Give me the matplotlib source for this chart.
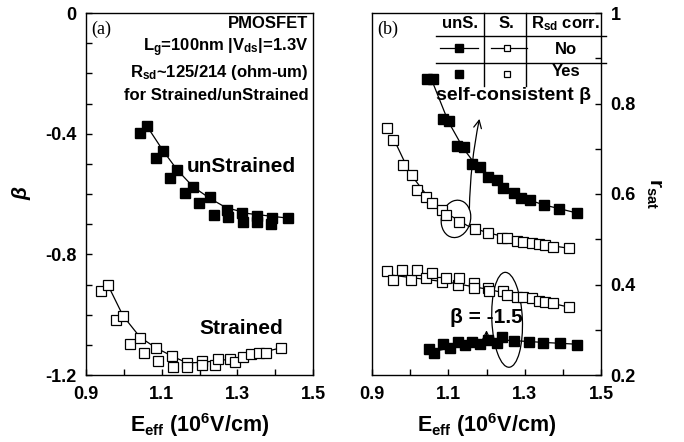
import matplotlib
matplotlib.use("Agg")
import matplotlib.pyplot as plt
from matplotlib.patches import Ellipse
from matplotlib.ticker import MultipleLocator

SANS = "Liberation Sans"
SERIF = "Liberation Serif"
plt.rcParams["font.family"] = [SANS, "DejaVu Sans"]
plt.rcParams["mathtext.fontset"] = "custom"
plt.rcParams["mathtext.rm"] = SANS + ":bold"
plt.rcParams["mathtext.it"] = SANS + ":bold:italic"
plt.rcParams["mathtext.bf"] = SANS + ":bold"

# ---------------- Panel (a): beta vs Eeff ----------------
a_unstr_E = [1.043, 1.061, 1.104, 1.085, 1.141, 1.122, 1.183, 1.162, 1.228, 1.199,
             1.238, 1.273, 1.275, 1.312, 1.315, 1.352, 1.352, 1.392, 1.389, 1.434]
a_unstr_b = [-0.398, -0.375, -0.457, -0.481, -0.520, -0.547, -0.577, -0.597, -0.610, -0.630,
             -0.670, -0.653, -0.676, -0.663, -0.693, -0.673, -0.693, -0.680, -0.699, -0.680]
a_unstr_fitE = [1.061, 1.104, 1.141, 1.183, 1.228, 1.27, 1.33, 1.434]
a_unstr_fitb = [-0.375, -0.457, -0.520, -0.576, -0.615, -0.645, -0.665, -0.680]

a_str_E = [0.940, 0.958, 0.979, 0.998, 1.016, 1.043, 1.053, 1.085, 1.090, 1.127, 1.130,
           1.167, 1.167, 1.207, 1.207, 1.241, 1.249, 1.281, 1.294, 1.315, 1.336, 1.357,
           1.376, 1.415]
a_str_b = [-0.921, -0.902, -1.018, -1.004, -1.097, -1.077, -1.127, -1.110, -1.153, -1.137,
           -1.173, -1.160, -1.173, -1.153, -1.167, -1.167, -1.147, -1.147, -1.157, -1.140,
           -1.130, -1.127, -1.127, -1.110]
a_str_fitE = [0.958, 0.998, 1.043, 1.085, 1.127, 1.167, 1.207, 1.25, 1.28, 1.31, 1.36, 1.415]
a_str_fitb = [-0.902, -1.004, -1.075, -1.110, -1.137, -1.160, -1.158, -1.152, -1.148,
              -1.140, -1.127, -1.110]

# ---------------- Panel (b): r_sat vs Eeff ----------------
b_unS_no_E = [1.044, 1.060, 1.086, 1.102, 1.123, 1.141, 1.162, 1.183, 1.204, 1.227,
              1.243, 1.272, 1.290, 1.314, 1.351, 1.390, 1.437]
b_unS_no_r = [0.854, 0.854, 0.766, 0.761, 0.706, 0.704, 0.666, 0.660, 0.638, 0.631,
              0.613, 0.602, 0.591, 0.587, 0.576, 0.567, 0.558]
b_unS_no_fitE = [1.055, 1.10, 1.14, 1.18, 1.22, 1.26, 1.30, 1.35, 1.437]
b_unS_no_fitr = [0.855, 0.760, 0.700, 0.655, 0.630, 0.607, 0.590, 0.576, 0.558]

b_S_no_E = [0.939, 0.955, 0.981, 1.005, 1.018, 1.041, 1.057, 1.083, 1.094, 1.128,
            1.170, 1.204, 1.241, 1.254, 1.280, 1.296, 1.319, 1.338, 1.353, 1.374, 1.416]
b_S_no_r = [0.746, 0.719, 0.664, 0.642, 0.609, 0.593, 0.580, 0.565, 0.554, 0.538,
            0.523, 0.514, 0.503, 0.503, 0.496, 0.494, 0.492, 0.490, 0.487, 0.483, 0.481]
b_S_no_fitE = [0.955, 1.0, 1.05, 1.10, 1.15, 1.20, 1.30, 1.416]
b_S_no_fitr = [0.725, 0.645, 0.590, 0.555, 0.530, 0.515, 0.495, 0.480]

b_S_yes_E = [0.939, 0.955, 0.979, 1.002, 1.018, 1.041, 1.057, 1.083, 1.094, 1.125, 1.128,
             1.168, 1.168, 1.204, 1.207, 1.243, 1.254, 1.280, 1.296, 1.319, 1.338, 1.353,
             1.374, 1.416]
b_S_yes_r = [0.430, 0.410, 0.432, 0.410, 0.432, 0.414, 0.425, 0.405, 0.414, 0.399, 0.414,
             0.403, 0.392, 0.392, 0.386, 0.386, 0.377, 0.372, 0.372, 0.370, 0.364, 0.361,
             0.359, 0.350]
b_S_yes_fitE = [0.939, 1.10, 1.20, 1.30, 1.416]
b_S_yes_fitr = [0.422, 0.405, 0.390, 0.372, 0.350]

b_unS_yes_E = [1.049, 1.062, 1.086, 1.104, 1.125, 1.144, 1.162, 1.183, 1.204, 1.227,
               1.241, 1.272, 1.312, 1.349, 1.392, 1.437]
b_unS_yes_r = [0.257, 0.249, 0.268, 0.260, 0.272, 0.266, 0.273, 0.268, 0.277, 0.270,
               0.284, 0.275, 0.273, 0.271, 0.271, 0.266]
b_unS_yes_fitE = [1.05, 1.15, 1.25, 1.35, 1.437]
b_unS_yes_fitr = [0.250, 0.268, 0.277, 0.272, 0.268]

a_yticks = [0, -0.4, -0.8, -1.2]
a_yticklabels = ["0", "-0.4", "-0.8", "-1.2"]
b_yticks = [0.2, 0.4, 0.6, 0.8, 1.0]
b_yticklabels = ["0.2", "0.4", "0.6", "0.8", "1"]
xticks = [0.9, 1.1, 1.3, 1.5]
xticklabels = ["0.9", "1.1", "1.3", "1.5"]

fig = plt.figure(figsize=(6.84, 4.42), dpi=100)
axa = fig.add_axes([86 / 684, 1 - 375 / 442, 227 / 684, 362 / 442])
axb = fig.add_axes([372 / 684, 1 - 375 / 442, 229 / 684, 362 / 442])

tickfont = dict(family=SANS, weight="bold", size=13)
lw = 0.9
msF = 7
msO = 6.5

for ax in (axa, axb):
    for s in ax.spines.values():
        s.set_linewidth(1.0)
    ax.set_xlim(0.9, 1.5)
    ax.xaxis.set_minor_locator(MultipleLocator(0.1))
    ax.set_xticks(xticks)
    ax.set_xticklabels(xticklabels, fontdict=tickfont)
    ax.tick_params(axis="both", which="both", direction="in", length=4, width=1.0, pad=5)
    ax.tick_params(axis="x", which="both", pad=8)
    ax.set_xlabel(r"E$_{\mathregular{eff}}$ (10$^{\mathregular{6}}$V/cm)", fontsize=15.5,
                  fontweight="bold", labelpad=6)

# ---- panel a
axa.set_ylim(-1.2, 0)
axa.set_yticks(a_yticks)
axa.set_yticklabels(a_yticklabels, fontdict=tickfont)
axa.yaxis.set_minor_locator(MultipleLocator(0.1))
axa.tick_params(axis="y", which="both", pad=7)
axa.set_ylabel("β", fontsize=15, fontweight="bold", style="italic", labelpad=10)

axa.plot(a_unstr_fitE, a_unstr_fitb, color="black", lw=lw)
axa.plot(a_unstr_E, a_unstr_b, ls="none", marker="s", ms=msF, mfc="black", mec="black")
axa.plot(a_str_fitE, a_str_fitb, color="black", lw=lw)
axa.plot(a_str_E, a_str_b, ls="none", marker="s", ms=msO, mfc="white", mec="black", mew=0.9)

axa.text(0.025, 0.955, "(a)", transform=axa.transAxes, family=SERIF, fontsize=13, va="center")
hdr = [("PMOSFET", 0.970),
       (r"L$_{\mathregular{g}}$=100nm |V$_{\mathregular{ds}}$|=1.3V", 0.903),
       (r"R$_{\mathregular{sd}}$~125/214 (ohm-um)", 0.837),
       ("for Strained/unStrained", 0.773)]
for t, yy in hdr:
    axa.text(0.98, yy, t, transform=axa.transAxes, ha="right", va="center",
             fontsize=12, fontweight="bold")
axa.text(1.31, -0.51, "unStrained", fontsize=15, fontweight="bold", ha="center", va="center")
axa.text(1.31, -1.045, "Strained", fontsize=15, fontweight="bold", ha="center", va="center")

# ---- panel b
axb.set_ylim(0.2, 1.0)
axb.yaxis.tick_right()
axb.yaxis.set_label_position("right")
axb.set_yticks(b_yticks)
axb.set_yticklabels(b_yticklabels, fontdict=tickfont)
axb.yaxis.set_minor_locator(MultipleLocator(0.1))
axb.tick_params(axis="y", which="both", pad=7)
axb.set_ylabel(r"r$_{\mathregular{sat}}$", fontsize=15, fontweight="bold", rotation=270,
               labelpad=20)

axb.plot(b_unS_no_fitE, b_unS_no_fitr, color="black", lw=lw)
axb.plot(b_unS_no_E, b_unS_no_r, ls="none", marker="s", ms=msF, mfc="black", mec="black")
axb.plot(b_S_no_fitE, b_S_no_fitr, color="black", lw=lw)
axb.plot(b_S_no_E, b_S_no_r, ls="none", marker="s", ms=msO, mfc="white", mec="black", mew=0.9)
axb.plot(b_S_yes_fitE, b_S_yes_fitr, color="black", lw=lw)
axb.plot(b_S_yes_E, b_S_yes_r, ls="none", marker="s", ms=msO, mfc="white", mec="black", mew=0.9)
axb.plot(b_unS_yes_fitE, b_unS_yes_fitr, color="black", lw=lw)
axb.plot(b_unS_yes_E, b_unS_yes_r, ls="none", marker="s", ms=msF, mfc="black", mec="black")

axb.text(0.025, 0.955, "(b)", transform=axb.transAxes, family=SERIF, fontsize=13, va="center")

# legend table (axes fraction coords)
tx = axb.transAxes
def fx(px):
    return (px - 372) / 229.0
def fy(py):
    return (375 - py) / 362.0
for yy in (36, 63):
    axb.plot([fx(436), fx(606)], [fy(yy), fy(yy)], color="black", lw=1.0,
             transform=tx, clip_on=False)
for xx in (484, 526):
    axb.plot([fx(xx), fx(xx)], [fy(13), fy(86)], color="black", lw=1.0,
             transform=tx, clip_on=False)
tfont = dict(fontsize=12, fontweight="bold", ha="center", va="center", transform=tx)
axb.text(fx(460), fy(24), "unS.", **tfont)
axb.text(fx(506), fy(24), "S.", **tfont)
axb.text(fx(565), fy(24), r"R$_{\mathregular{sd}}$ corr.", **tfont)
axb.text(fx(566), fy(49), "No", **tfont)
axb.text(fx(566), fy(72), "Yes", **tfont)
axb.plot([fx(440), fx(478)], [fy(48), fy(48)], color="black", lw=lw, transform=tx)
axb.plot([fx(459)], [fy(48)], marker="s", ms=msF - 1, mfc="black", mec="black", transform=tx)
axb.plot([fx(491), fx(527)], [fy(48), fy(48)], color="black", lw=lw, transform=tx)
axb.plot([fx(507)], [fy(48)], marker="s", ms=msO - 1.5, mfc="white", mec="black", mew=0.9,
         transform=tx)
axb.plot([fx(459)], [fy(74)], marker="s", ms=msF - 1, mfc="black", mec="black", transform=tx)
axb.plot([fx(507)], [fy(74)], marker="s", ms=msO - 1.5, mfc="white", mec="black", mew=0.9,
         transform=tx)

# annotations
axb.text(1.27, 0.817, "self-consistent β", fontsize=14, fontweight="bold", ha="center",
         va="center")
axb.add_patch(Ellipse((1.12, 0.545), 0.075, 0.085, angle=-30, fill=False, lw=0.9,
                      color="black"))
axb.annotate("", xy=(1.183, 0.772), xytext=(1.155, 0.56),
             arrowprops=dict(arrowstyle="->", lw=0.9, color="black",
                             connectionstyle="arc3,rad=-0.05", mutation_scale=14))
axb.text(1.20, 0.326, "β = -1.5", fontsize=15, fontweight="bold", ha="center", va="center")
axb.annotate("", xy=(1.20, 0.305), xytext=(1.20, 0.283),
             arrowprops=dict(arrowstyle="->", lw=0.9, color="black", mutation_scale=14))
axb.add_patch(Ellipse((1.254, 0.322), 0.08, 0.21, angle=3, fill=False, lw=0.9, color="black"))

fig.savefig("out.png", dpi=100)
